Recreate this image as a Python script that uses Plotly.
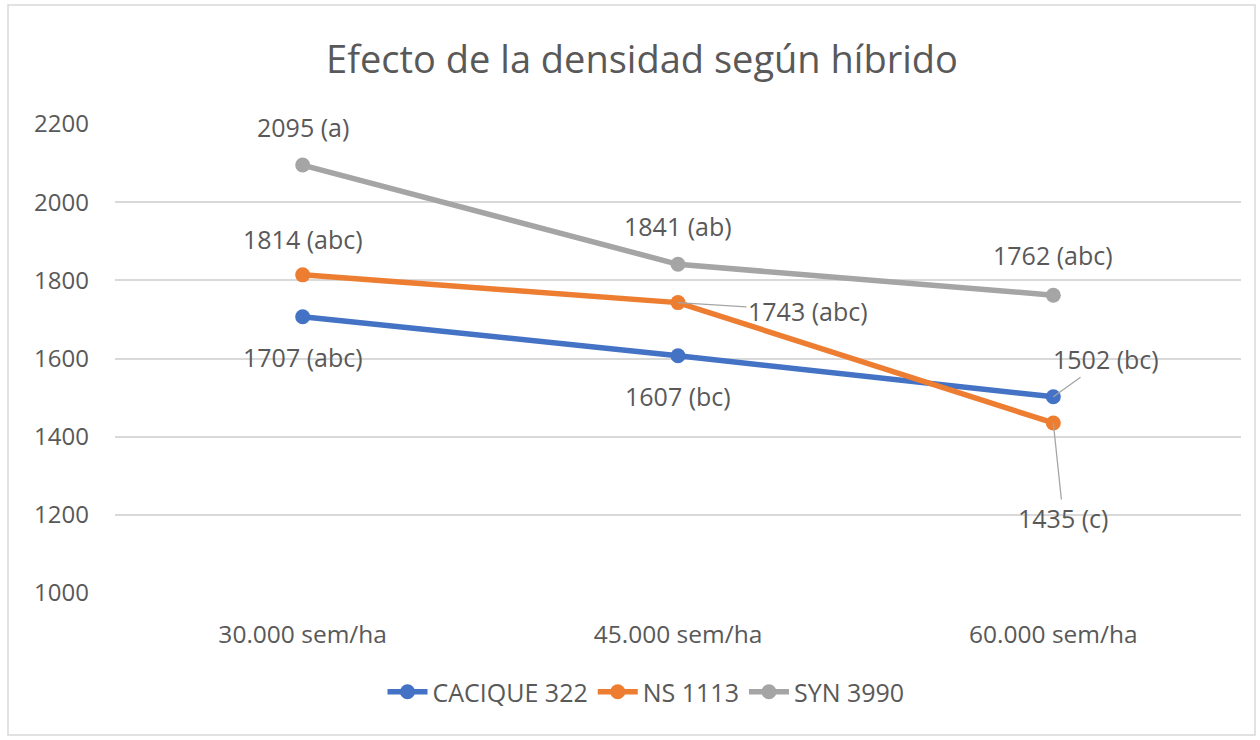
import plotly.graph_objects as go

categories = ["30.000 sem/ha", "45.000 sem/ha", "60.000 sem/ha"]
series_names = ["CACIQUE 322", "NS 1113", "SYN 3990"]
cacique = [1707, 1607, 1502]
ns = [1814, 1743, 1435]
syn = [2095, 1841, 1762]
letters_cacique = ["abc", "bc", "bc"]
letters_ns = ["abc", "abc", "c"]
letters_syn = ["a", "ab", "abc"]
y_ticks = [1000, 1200, 1400, 1600, 1800, 2000, 2200]

colors = ["#4472C4", "#ED7D31", "#A5A5A5"]
FONT = "Open Sans"
TXT = "#595959"

fig = go.Figure()
for name, vals, col in zip(series_names, [cacique, ns, syn], colors):
    fig.add_trace(go.Scatter(
        x=categories, y=vals, name=name, mode="lines+markers",
        line=dict(color=col, width=5.5), marker=dict(color=col, size=15),
    ))

# label offsets (pixels) and whether a leader line is drawn
label_specs = [
    (cacique, letters_cacique, [(0, 40, False), (0, 40, False), (53, -38, True)]),
    (ns, letters_ns, [(0, -36, False), (130, 8, True), (10, 95, True)]),
    (syn, letters_syn, [(0, -38, False), (0, -38, False), (0, -40, False)]),
]
for vals, lets, offs in label_specs:
    for i, (v, l) in enumerate(zip(vals, lets)):
        ax, ay, arrow = offs[i]
        fig.add_annotation(
            x=categories[i], y=v, text=f"{v} ({l})", xref="x", yref="y",
            showarrow=True, ax=ax, ay=ay, axref="pixel", ayref="pixel",
            arrowhead=0, arrowwidth=1.3 if arrow else 0.1,
            arrowcolor="#A5A5A5" if arrow else "rgba(0,0,0,0)",
            standoff=0, startstandoff=0,
            font=dict(family=FONT, size=25, color=TXT),
        )

L, R, T, B = 115, 19, 124, 147
W, H = 1260, 740
pw, ph = W - L - R, H - T - B
fig.add_shape(type="rect", xref="paper", yref="paper",
              x0=(8 - L) / pw, x1=(1255 - L) / pw,
              y0=(H - B - 735) / ph, y1=(H - B - 5) / ph,
              line=dict(color="#D9D9D9", width=1.5), fillcolor="rgba(0,0,0,0)", layer="below")

fig.update_layout(
    width=W, height=H,
    margin=dict(l=L, r=R, t=T, b=B, autoexpand=False),
    paper_bgcolor="white", plot_bgcolor="white",
    title=dict(text="Efecto de la densidad según híbrido", x=(642 - L) / pw, xref="paper",
               xanchor="center", y=1 - 60 / H, yanchor="middle",
               font=dict(family=FONT, size=38, color=TXT)),
    font=dict(family=FONT, size=24, color=TXT),
    showlegend=True,
    legend=dict(orientation="h", x=(646 - L) / pw, xanchor="center",
                y=-(692 - (H - B)) / ph, yanchor="middle",
                font=dict(family=FONT, size=25, color=TXT), itemwidth=40),
)
fig.update_xaxes(showgrid=False, showline=False, ticks="", ticklabelstandoff=24,
                 range=[-0.5, 2.5],
                 tickfont=dict(family=FONT, size=24.5, color=TXT))
fig.update_yaxes(range=[1000, 2200], tickvals=y_ticks, showgrid=True, gridcolor="#D9D9D9",
                 gridwidth=1.8, zeroline=False, showline=False, ticks="", ticklabelstandoff=25,
                 tickfont=dict(family=FONT, size=24, color=TXT))

fig.write_html("out.html", config={"displayModeBar": False},
               post_script="document.body.style.margin='0';document.body.style.padding='0';")
